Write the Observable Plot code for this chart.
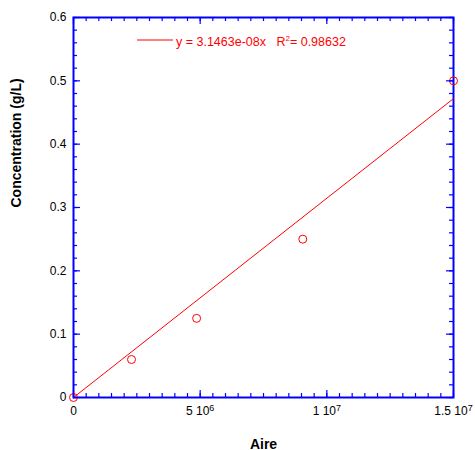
<!DOCTYPE html>
<html><head><meta charset="utf-8">
<script src="https://cdn.jsdelivr.net/npm/d3@7"></script>
<script src="https://cdn.jsdelivr.net/npm/@observablehq/plot@0.6"></script>
<style>body{margin:0;background:#fff;}</style>
</head><body><div id="chart"></div>
<script>
// Data
const aire = [0, 2.29e6, 4.86e6, 9.05e6, 1.5e7];
const concentration = [0, 0.06, 0.125, 0.25, 0.5];
const slope = 3.1463e-8;
const r2 = 0.98632;
const fitX = [0, 1.5e7];
const xMajor = [0, 5e6, 1e7, 1.5e7];
const xMajorLabels = ["0", "5 10^6", "1 10^7", "1.5 10^7"];
const yMajor = [0, 0.1, 0.2, 0.3, 0.4, 0.5, 0.6];
const yMajorLabels = ["0", "0.1", "0.2", "0.3", "0.4", "0.5", "0.6"];
const xMinor = d3.range(0, 31).map(i => i * 5e5);
const yMinor = d3.range(0, 31).map(i => +(i * 0.02).toFixed(2));
const xTitle = "Aire";
const yTitle = "Concentration (g/L)";

const points = aire.map((a, i) => ({x: a, y: concentration[i]}));
const fit = fitX.map(x => ({x, y: slope * x}));

const blue = "#0000ff";
const red = "#ff0000";
const inner = 380; // plot area 380 x 380 px

const chart = Plot.plot({
  width: 475, height: 450,
  marginLeft: 73, marginRight: 22, marginTop: 17, marginBottom: 53,
  x: {domain: [0, 1.5e7]},
  y: {domain: [0, 0.6]},
  marks: [
    Plot.axisX(xMajor, {anchor: "bottom", tickSize: 0, tickPadding: 9, label: null,
      tickFormat: (d) => xMajorLabels[xMajor.indexOf(d)], fill: "#000", fontSize: 12}),
    Plot.axisY(yMajor, {anchor: "left", tickSize: 0, tickPadding: 7, label: null,
      tickFormat: (d) => yMajorLabels[yMajor.indexOf(d)], fill: "#000", fontSize: 12}),
    Plot.frame({stroke: blue, strokeWidth: 2}),
    Plot.line(fit, {x: "x", y: "y", stroke: red, strokeWidth: 1}),
    Plot.dot(points, {x: "x", y: "y", r: 4, stroke: red, strokeWidth: 1, fill: "none"}),
    Plot.text([xTitle], {frameAnchor: "bottom", lineAnchor: "bottom", dy: 51, fontWeight: "bold", fontSize: 14, fill: "#000"}),
    Plot.text([yTitle], {frameAnchor: "left", rotate: -90, dx: -57, lineAnchor: "middle", fontWeight: "bold", fontSize: 14, fill: "#000"}),
    // inward ticks on all four sides (drawn last)
    Plot.tickX(xMinor, {x: d => d, stroke: blue, strokeWidth: 1.2, insetTop: inner - 4}),
    Plot.tickX(xMinor, {x: d => d, stroke: blue, strokeWidth: 1.2, insetBottom: inner - 4}),
    Plot.tickY(yMinor, {y: d => d, stroke: blue, strokeWidth: 1.2, insetRight: inner - 4}),
    Plot.tickY(yMinor, {y: d => d, stroke: blue, strokeWidth: 1.2, insetLeft: inner - 4}),
    Plot.tickX(xMajor, {x: d => d, stroke: blue, strokeWidth: 1.2, insetTop: inner - 7}),
    Plot.tickX(xMajor, {x: d => d, stroke: blue, strokeWidth: 1.2, insetBottom: inner - 7}),
    Plot.tickY(yMajor, {y: d => d, stroke: blue, strokeWidth: 1.2, insetRight: inner - 7}),
    Plot.tickY(yMajor, {y: d => d, stroke: blue, strokeWidth: 1.2, insetLeft: inner - 7})
  ]
});
chart.setAttribute("font-family", '"Liberation Sans", Arial, Helvetica, sans-serif');
document.getElementById("chart").appendChild(chart);

// superscripts in x tick labels
d3.select(chart).selectAll('g[aria-label="x-axis tick label"] text').each(function () {
  const t = this.textContent;
  if (t.includes("^")) {
    const [base, exp] = t.split("^");
    const sel = d3.select(this);
    sel.text(null);
    sel.append("tspan").text(base);
    sel.append("tspan").attr("dy", "-0.5em").attr("font-size", "9px").text(exp);
  }
});

// legend
const lg = d3.select(chart).append("g").attr("fill", red).attr("font-size", "12.5px").attr("text-anchor", "start");
lg.append("line").attr("x1", 137).attr("x2", 173).attr("y1", 40).attr("y2", 40).attr("stroke", red);
const lt = lg.append("text").attr("x", 176).attr("y", 46).style("white-space", "pre");
lt.append("tspan").text(`y = ${slope.toExponential(4).replace("e-8", "e-08")}x   R`);
lt.append("tspan").attr("dy", "-5").attr("font-size", "8px").text("2");
lt.append("tspan").attr("dy", "5").text(`= ${r2}`);
</script>
</body></html>
